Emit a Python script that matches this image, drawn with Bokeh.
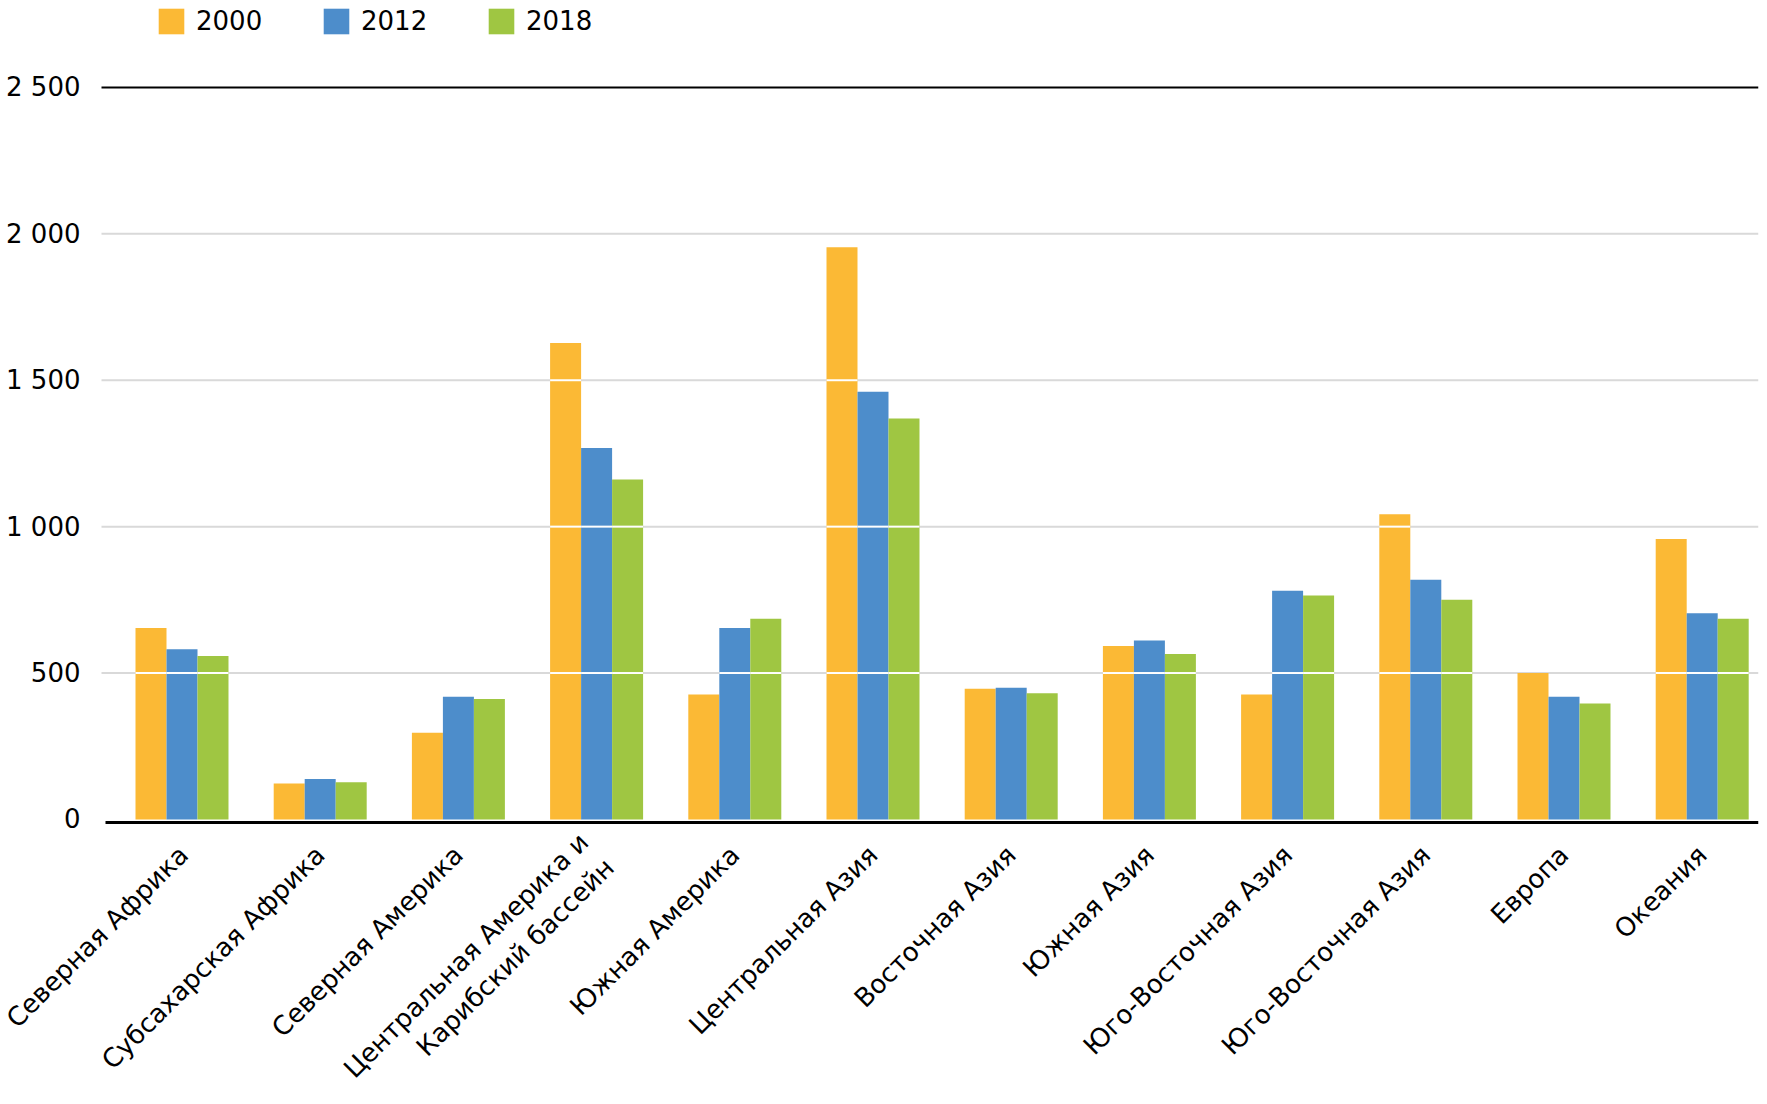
import math
from bokeh.plotting import figure
from bokeh.models import ColumnDataSource, FixedTicker, Range1d
from bokeh.transform import dodge
from bokeh.embed import file_html
from bokeh.resources import INLINE

# ---- data ----
regions = [
    "Северная Африка",
    "Субсахарская Африка",
    "Северная Америка",
    "Центральная Америка и\nКарибский бассейн",
    "Южная Америка",
    "Центральная Азия",
    "Восточная Азия",
    "Южная Азия",
    "Юго-Восточная Азия",
    "Юго-Восточная Азия",
    "Европа",
    "Океания",
]
years = ["2000", "2012", "2018"]
v2000 = [654, 123, 296, 1627, 427, 1954, 446, 592, 427, 1042, 500, 958]
v2012 = [581, 138, 419, 1269, 654, 1461, 450, 611, 781, 819, 419, 704]
v2018 = [558, 127, 411, 1161, 685, 1369, 431, 565, 765, 750, 396, 685]
y_ticks = [0, 500, 1000, 1500, 2000, 2500]
y_tick_labels = ["0", "500", "1 000", "1 500", "2 000", "2 500"]
grid_levels = [500, 1000, 1500, 2000]
top_level = [2500]

colors = ["#FBB935", "#4D8DCB", "#9FC642"]
FONT = "DejaVu Sans"
BAR_W = 0.2243
offsets = [-BAR_W, 0.0, BAR_W]

# layout constants (x in category units, y in value units)
X_START, X_END = -1.3133, 11.4074
PLOT_LEFT = -0.5825      # where grid lines / y labels start
BASE_LEFT = -0.5535      # where the zero baseline starts
AXIS_Y = -10             # baseline sits just under the bars

xs = list(range(len(regions)))
src = ColumnDataSource(dict(x=xs, v2000=v2000, v2012=v2012, v2018=v2018))

p = figure(
    width=1760, height=1100,
    x_range=Range1d(X_START, X_END), y_range=Range1d(-960, 2797),
    output_backend="svg", toolbar_location=None,
    min_border_left=0, min_border_right=2, min_border_top=0, min_border_bottom=0,
)
p.outline_line_color = None
p.background_fill_color = "white"
p.xgrid.grid_line_color = None
p.ygrid.grid_line_color = None

# horizontal grid lines (light grey) and the top line at 2 500 (black)
gsrc = ColumnDataSource(dict(y=grid_levels, x0=[PLOT_LEFT] * len(grid_levels),
                             x1=[X_END] * len(grid_levels)))
p.segment(x0="x0", y0="y", x1="x1", y1="y", source=gsrc, line_color="#d9d9d9", line_width=2)
tsrc = ColumnDataSource(dict(y=top_level, x0=[PLOT_LEFT], x1=[X_END]))
p.segment(x0="x0", y0="y", x1="x1", y1="y", source=tsrc, line_color="black", line_width=2)

# y axis (labels only), pinned at the left edge of the plotting area
ya = p.yaxis[0]
ya.fixed_location = PLOT_LEFT
ya.ticker = FixedTicker(ticks=y_ticks)
ya.major_label_overrides = {t: l for t, l in zip(y_ticks, y_tick_labels)}
ya.axis_line_color = None
ya.major_tick_line_color = None
ya.minor_tick_line_color = None
ya.major_tick_out = 0
ya.major_tick_in = 0
ya.minor_tick_out = 0
ya.major_label_standoff = 21
ya.major_label_text_font = FONT
ya.major_label_text_font_size = "26px"
ya.major_label_text_color = "black"

# x axis, pinned at the baseline
xa = p.xaxis[0]
xa.fixed_location = AXIS_Y
xa.bounds = (BASE_LEFT, X_END)
xa.ticker = FixedTicker(ticks=xs)
xa.major_label_overrides = {i: r for i, r in zip(xs, regions)}
xa.major_label_orientation = math.pi / 4
xa.axis_line_color = "black"
xa.axis_line_width = 3
xa.major_tick_line_color = None
xa.minor_tick_line_color = None
xa.major_tick_out = 0
xa.major_tick_in = 0
xa.major_label_standoff = 28
xa.major_label_text_font = FONT
xa.major_label_text_font_size = "26px"
xa.major_label_text_color = "black"

cols = ["v2000", "v2012", "v2018"]
for k, col in enumerate(cols):
    p.vbar(x=dodge("x", offsets[k], range=p.x_range), top=col, width=BAR_W,
           source=src, fill_color=colors[k], line_color=None, legend_label=years[k])

# white gridline pieces across the bars
series = [v2000, v2012, v2018]
for k, vals in enumerate(series):
    wx, wb, wt = [], [], []
    for g in grid_levels:
        for i, v in enumerate(vals):
            if v > g:
                wx.append(i)
                wb.append(g - 3.4)
                wt.append(g + 3.4)
    wsrc = ColumnDataSource(dict(x=wx, b=wb, t=wt))
    p.vbar(x=dodge("x", offsets[k], range=p.x_range), bottom="b", top="t", width=BAR_W,
           source=wsrc, fill_color="white", line_color=None)

leg = p.legend[0]
leg.location = (155, 1063)
leg.orientation = "horizontal"
leg.glyph_width = 32
leg.glyph_height = 32
leg.label_height = 32
leg.label_standoff = 9
leg.label_width = 124
leg.spacing = 0
leg.padding = 0
leg.margin = 0
leg.border_line_color = None
leg.background_fill_alpha = 0
leg.label_text_font = FONT
leg.label_text_font_size = "26px"
leg.label_text_color = "black"

open("out.html", "w").write(file_html(p, INLINE))
